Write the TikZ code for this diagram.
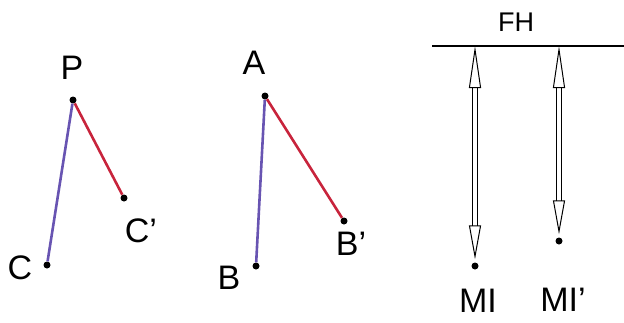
\documentclass[tikz,border=0pt]{standalone}
\usepackage{fontspec}
\setmainfont{Liberation Sans}
\usetikzlibrary{arrows.meta}
\definecolor{segblue}{RGB}{104,84,178}
\definecolor{segred}{RGB}{200,36,60}
\begin{document}
\begin{tikzpicture}[
    x=1pt, y=-1pt,
    every node/.style={font=\fontsize{34}{36}\selectfont, inner sep=0pt},
    dot/.style={circle, fill=black, inner sep=0pt, minimum size=7pt},
    bseg/.style={line width=2.6pt, segblue},
    rseg/.style={line width=2.6pt, segred},
    hollow/.style={double, double distance=3.5pt, line width=1pt,
        {Triangle[open, length=42pt, width=12pt]}-{Triangle[open, length=34pt, width=12pt]}, shorten >=3pt},
]
\useasboundingbox (0,0) rectangle (624,322);
% left pair
\node[dot] (P) at (73,100) {};
\node[dot] (C) at (47,265) {};
\node[dot] (Cp) at (124,198) {};
\node (lP) at (72,68) {P};
\node (lC) at (20,268) {C};
\node (lCp) at (141,231) {C'};
\draw[bseg] (P) -- (C);
\draw[rseg] (P) -- (Cp);
% middle pair
\node[dot] (A) at (265,96) {};
\node[dot] (B) at (256,266) {};
\node[dot] (Bp) at (344,221) {};
\node (lA) at (254,63) {A};
\node (lB) at (229,278) {B};
\node (lBp) at (351,244) {B'};
\draw[bseg] (A) -- (B);
\draw[rseg] (A) -- (Bp);
% right: FH line and heights
\coordinate (fhL) at (432,46);
\coordinate (fhR) at (624,46);
\draw[line width=1.2pt] (fhL) -- (fhR);
\node[font=\fontsize{27}{29}\selectfont] (FH) at (516,22) {FH};
\coordinate (t1) at (475,46);
\coordinate (t2) at (559,46);
\node[dot] (MI) at (475,266) {};
\node[dot] (MIp) at (559,241) {};
\node (lMI) at (478,301) {MI};
\node (lMIp) at (563,300) {MI'};
\draw[hollow] (t1) -- (MI);
\draw[hollow] (t2) -- (MIp);
\end{tikzpicture}
\end{document}
